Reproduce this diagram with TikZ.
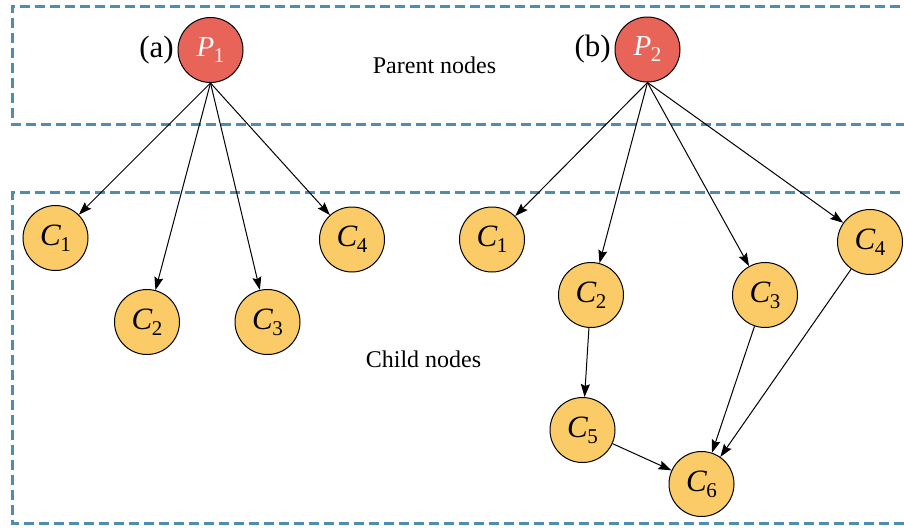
\documentclass[tikz,border=0pt]{standalone}
\usepackage{fontspec}
\setmainfont{Liberation Serif}
\usetikzlibrary{arrows.meta}
\definecolor{pred}{RGB}{232,99,88}
\definecolor{cyel}{RGB}{250,203,102}
\definecolor{bblue}{RGB}{78,141,176}
\newcommand{\lbl}[3]{\fontsize{#3}{#3}\selectfont\textit{#1}\kern-0.5pt\raisebox{-6pt}{\fontsize{21}{21}\selectfont #2}}
\tikzset{
  parent/.style={circle, draw=black, line width=1pt, fill=pred, minimum size=65pt, inner sep=0pt, text=white},
  child/.style={circle, draw=black, line width=1pt, fill=cyel, minimum size=65pt, inner sep=0pt},
  edge/.style={-{Stealth[length=13pt,width=9pt,inset=2pt]}, line width=1pt},
  dbox/.style={draw=bblue, line width=3pt, dash pattern=on 10pt off 5pt},
  txt/.style={font=\fontsize{24}{24}\selectfont, anchor=base},
  tag/.style={font=\fontsize{31}{31}\selectfont, anchor=base east, inner sep=0pt},
}
\begin{document}
\begin{tikzpicture}[x=1pt,y=-1pt]
\useasboundingbox (0,0) rectangle (904,528);
% dashed boxes
\draw[dbox] (930,6) -- (12,6) -- (12,124) -- (930,124);
\draw[dbox] (930,192.5) -- (12,192.5) -- (12,523) -- (930,523);
% texts
\node[txt] (pt) at (434.5,73) {Parent nodes};
\node[txt] (ct) at (423.5,367) {Child nodes};
% (a)
\node[parent] (P1) at (210.5,50) {\lbl{P}{1}{29}};
\node[tag] (ta) at (174,57) {(a)};
\node[child] (a1) at (55.5,238) {\lbl{C}{1}{31}};
\node[child] (a2) at (147,322) {\lbl{C}{2}{31}};
\node[child] (a3) at (267.5,322) {\lbl{C}{3}{31}};
\node[child] (a4) at (352,239.5) {\lbl{C}{4}{31}};
\foreach \c in {a1,a2,a3,a4} \draw[edge] (P1.south) -- (\c);
% (b)
\node[parent] (P2) at (647.5,49.5) {\lbl{P}{2}{29}};
\node[tag] (tb) at (611,56) {(b)};
\node[child] (b1) at (492,239.5) {\lbl{C}{1}{31}};
\node[child] (b2) at (591,295) {\lbl{C}{2}{31}};
\node[child] (b3) at (765,295) {\lbl{C}{3}{31}};
\node[child] (b4) at (870,242) {\lbl{C}{4}{31}};
\node[child] (b5) at (582.5,430) {\lbl{C}{5}{31}};
\node[child] (b6) at (701.5,484) {\lbl{C}{6}{31}};
\foreach \c in {b1,b2,b3,b4} \draw[edge] (P2.south) -- (\c);
\draw[edge] (b2) -- (b5);
\draw[edge] (b5) -- (b6);
\draw[edge] (b3) -- (b6);
\draw[edge] (b4) -- (b6);
\end{tikzpicture}
\end{document}
